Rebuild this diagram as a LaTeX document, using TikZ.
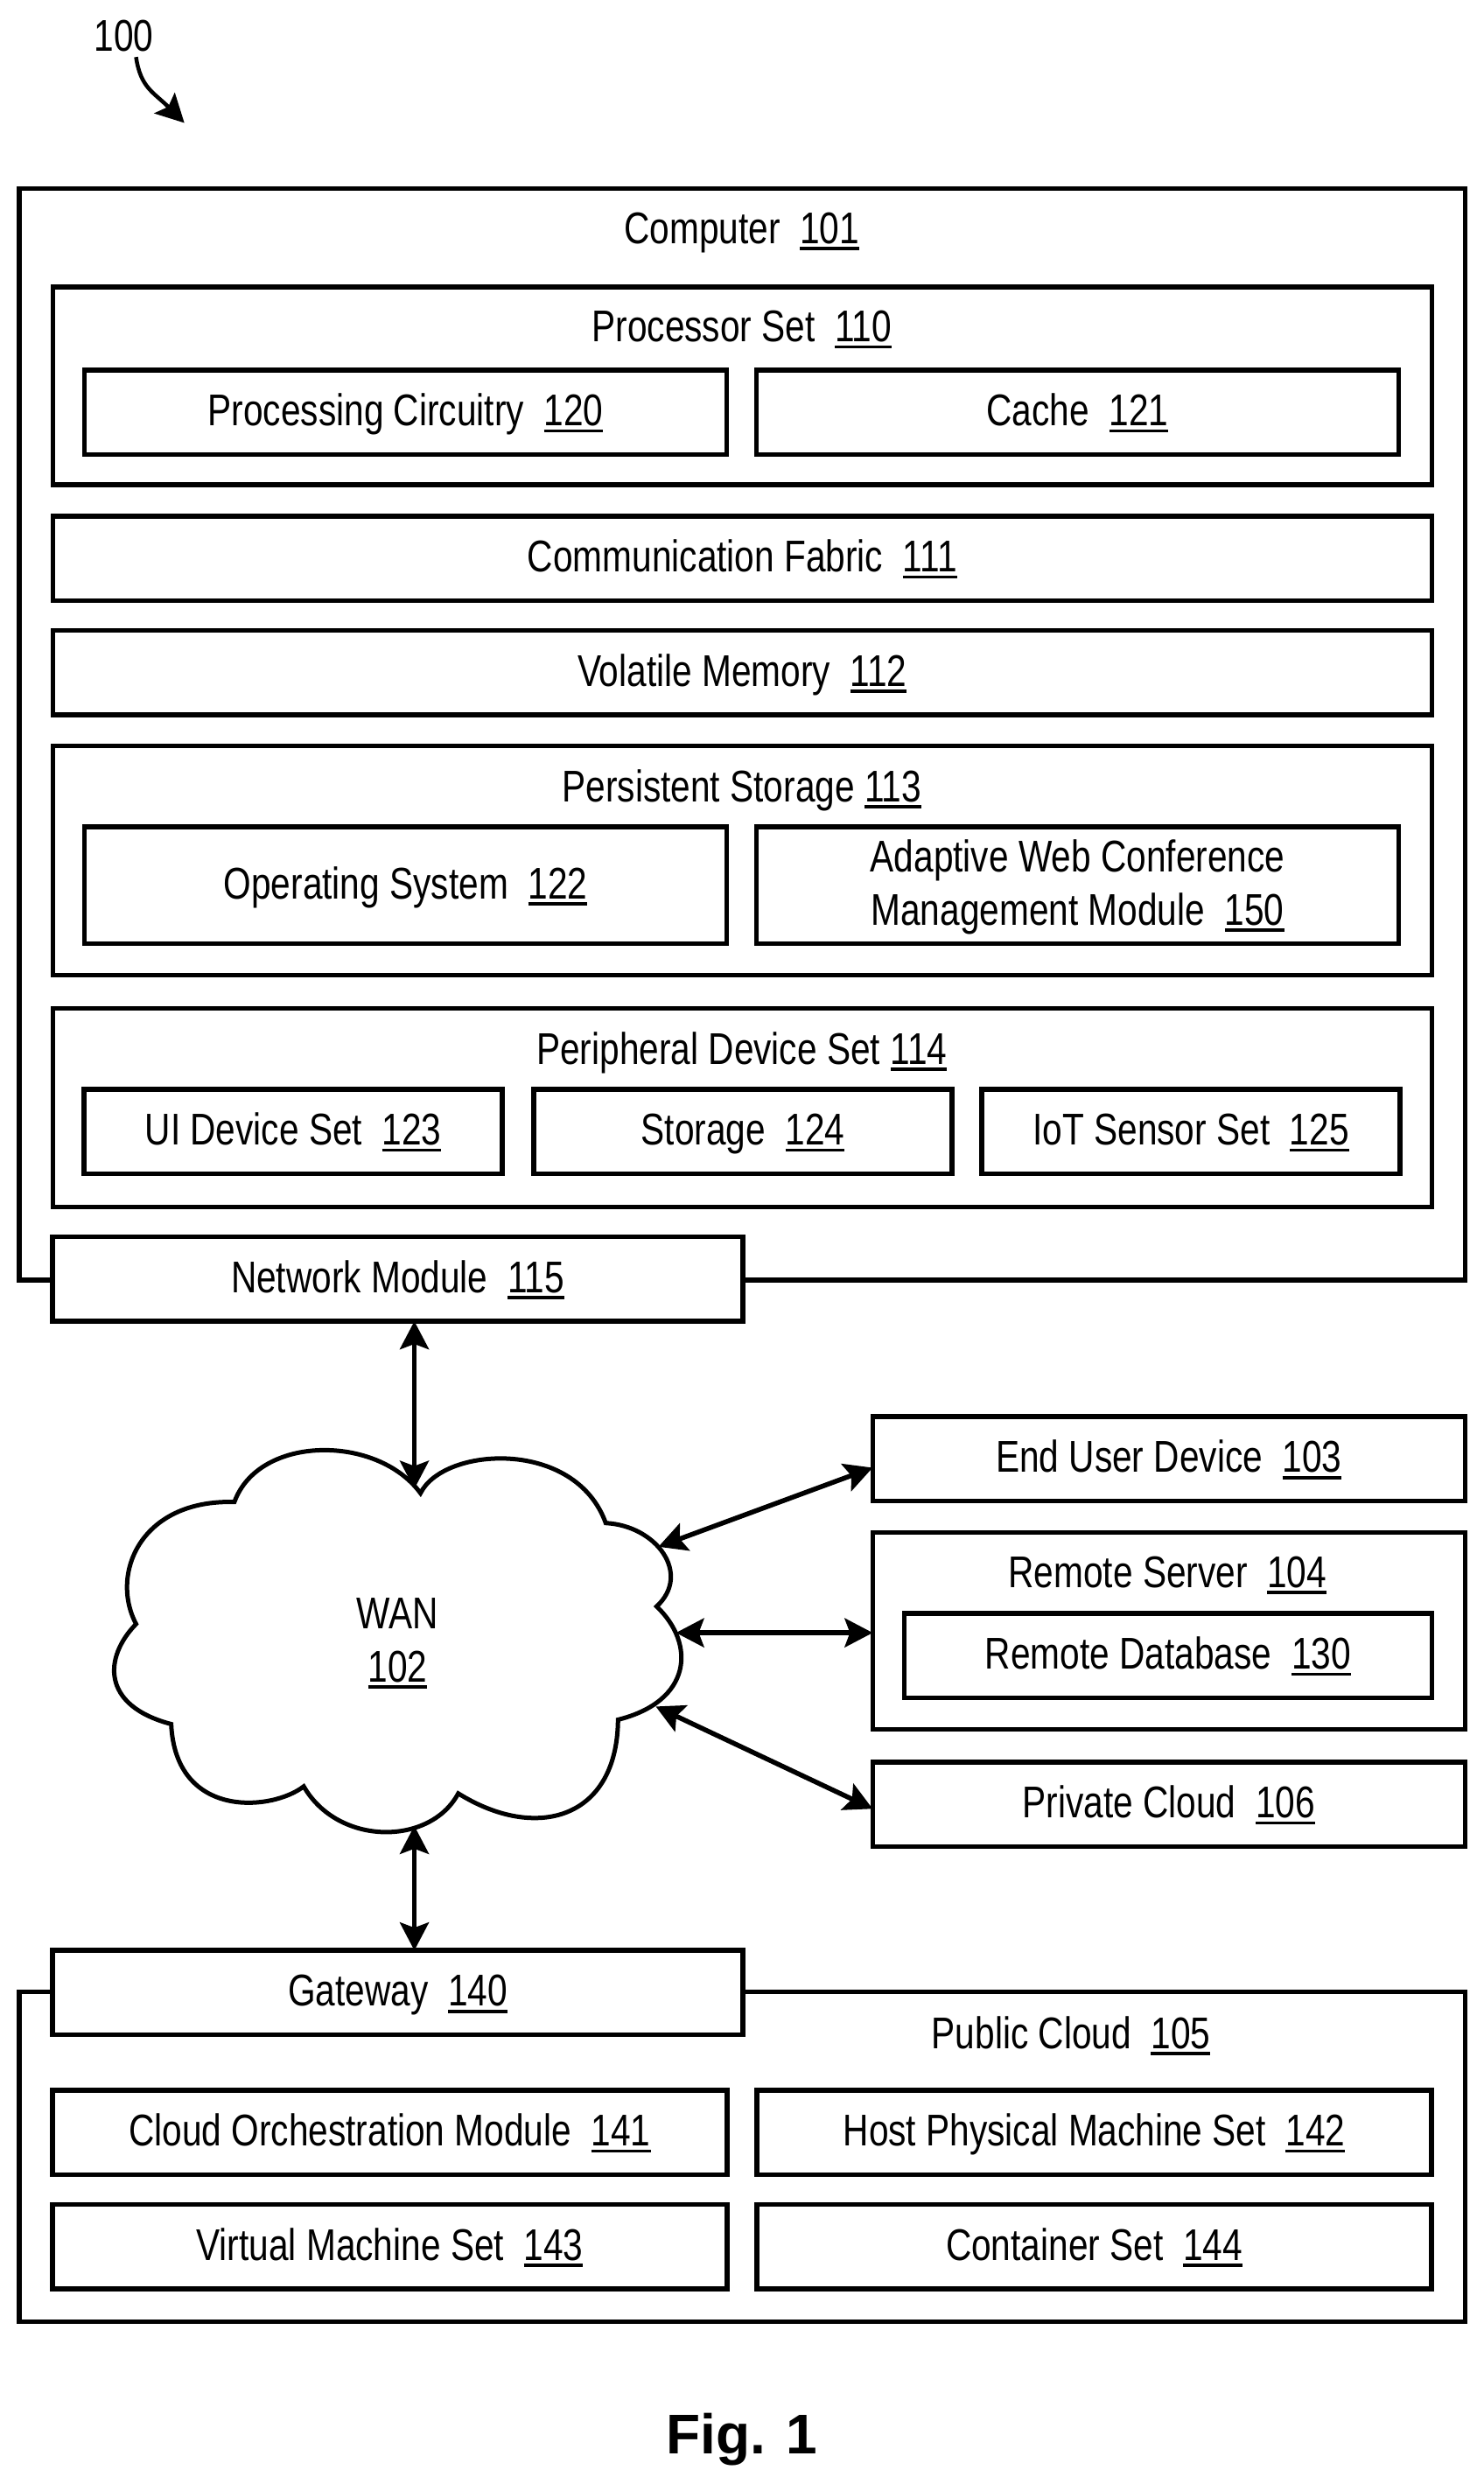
\documentclass[tikz,border=0pt]{standalone}
\usepackage{fontspec}
\setmainfont[FakeStretch=0.8]{Liberation Sans}
\newfontfamily\figfont{Liberation Sans}
\usetikzlibrary{positioning, calc}
\usetikzlibrary{arrows.meta}
\tikzset{>={Stealth[length=0.32cm, width=0.33cm, inset=0.06cm]}}
\tikzset{
  lbl/.style={font=\fontsize{14.45}{17.3}\selectfont, text height=0.38cm, text depth=0.07cm, inner sep=0, outer sep=0},
  box/.style={lbl, draw, fill=white, line width=0.055cm, align=center},
  wide/.style={box, minimum width=15.76cm, minimum height=0.965cm},
  half/.style={box, minimum width=7.34cm, minimum height=0.965cm},
  third/.style={box, minimum width=4.78cm, minimum height=0.965cm},
  halfwide/.style={box, minimum width=7.71cm, minimum height=0.965cm},
  side/.style={box, minimum width=6.77cm, minimum height=0.965cm},
  link/.style={<->, line width=0.055cm}
}
\newcommand{\refnum}[1]{\setbox0\hbox{#1}\rlap{\rule[-0.077cm]{\wd0}{0.037cm}}\box0}

\begin{document}
\begin{tikzpicture}[x=1.0033cm, y=1.0033cm]
  \useasboundingbox (0,0) rectangle (16.904,-28.297);

  \node[lbl] (label) at (1.41,-0.43) {100};
  \coordinate (labeltip) at (2.1,-1.4);
  \draw[->, line width=0.045cm] (1.55,-0.65) .. controls (1.6,-1.0) and (1.75,-1.05) .. (labeltip);

  % computer
  \node[box, minimum width=16.525cm, minimum height=12.47cm] (computer) at (8.455,-8.365) {};
  \node[lbl] (computertxt) at (8.45,-2.62) {Computer\ \ \refnum{101}};

  \node[box, minimum width=15.76cm, minimum height=2.26cm] (procset) at (8.455,-4.395) {};
  \node[lbl] (procsettxt) at (8.45,-3.74) {Processor Set\ \ \refnum{110}};
  \node[half] (circuit) at (4.62,-4.695) {Processing Circuitry\ \ \refnum{120}};
  \node[half, right=0.34cm of circuit] (cache) {Cache\ \ \refnum{121}};

  \node[wide] (fabric) at (8.455,-6.36) {Communication Fabric\ \ \refnum{111}};
  \node[wide, below=0.34cm of fabric] (volatile) {Volatile Memory\ \ \refnum{112}};

  \node[box, minimum width=15.76cm, minimum height=2.62cm] (persist) at (8.455,-9.805) {};
  \node[lbl] (persisttxt) at (8.45,-8.98) {Persistent Storage \refnum{113}};
  \node[half, minimum height=1.335cm] (opsys) at (4.62,-10.085) {Operating System\ \ \refnum{122}};
  \node[half, minimum height=1.335cm, right=0.34cm of opsys, text height=, text depth=0.07cm] (adaptive) {Adaptive Web Conference\\Management Module\ \ \refnum{150}};

  \node[box, minimum width=15.76cm, minimum height=2.27cm] (periph) at (8.455,-12.62) {};
  \node[lbl] (periphtxt) at (8.45,-11.97) {Peripheral Device Set \refnum{114}};
  \node[third] (uidev) at (3.34,-12.89) {UI Device Set\ \ \refnum{123}};
  \node[third, right=0.36cm of uidev] (storage) {Storage\ \ \refnum{124}};
  \node[third, right=0.34cm of storage] (iot) {IoT Sensor Set\ \ \refnum{125}};

  \node[box, minimum width=7.89cm, minimum height=0.965cm] (network) at (4.53,-14.57) {Network Module\ \ \refnum{115}};

  % cloud
  \draw[line width=0.05cm, fill=white] (2.67,-17.11)
    .. controls (2.95,-16.34) and (4.30,-16.34) .. (4.79,-17.01)
    .. controls (5.05,-16.48) and (6.55,-16.38) .. (6.90,-17.35)
    .. controls (7.48,-17.38) and (7.88,-17.93) .. (7.48,-18.30)
    .. controls (7.93,-18.73) and (7.88,-19.38) .. (7.04,-19.59)
    .. controls (7.03,-20.73) and (6.10,-20.98) .. (5.22,-20.43)
    .. controls (4.90,-21.03) and (3.85,-21.03) .. (3.46,-20.35)
    .. controls (3.10,-20.63) and (2.00,-20.73) .. (1.95,-19.64)
    .. controls (1.15,-19.43) and (1.18,-18.88) .. (1.55,-18.50)
    .. controls (1.25,-17.93) and (1.60,-17.08) .. (2.67,-17.11) -- cycle;
  \node[lbl, text height=, text depth=, align=center] (wan) at (4.53,-18.72) {WAN\\\refnum{102}};
  \coordinate (wannorth) at (4.72,-16.96);
  \coordinate (wansouth) at (4.72,-20.8);
  \coordinate (wanne) at (7.5,-17.62);
  \coordinate (wane) at (7.7,-18.6);
  \coordinate (wanse) at (7.47,-19.44);

  % remote side
  \node[side, anchor=west] (enduser) at (9.94,-16.62) {End User Device\ \ \refnum{103}};
  \node[box, minimum width=6.77cm, minimum height=2.25cm] (server) at (13.315,-18.58) {};
  \node[lbl] (servertxt) at (13.3,-17.93) {Remote Server\ \ \refnum{104}};
  \node[box, minimum width=6.03cm, minimum height=0.965cm] (database) at (13.305,-18.86) {Remote Database\ \ \refnum{130}};
  \node[side, anchor=west] (private) at (9.94,-20.555) {Private Cloud\ \ \refnum{106}};

  % public cloud
  \node[box, minimum width=16.525cm, minimum height=3.77cm] (public) at (8.455,-24.57) {};
  \node[lbl] (publictxt) at (12.2,-23.18) {Public Cloud\ \ \refnum{105}};
  \node[box, minimum width=7.89cm, minimum height=0.965cm] (gateway) at (4.53,-22.7) {Gateway\ \ \refnum{140}};
  \node[halfwide] (orch) at (4.44,-24.29) {Cloud Orchestration Module\ \ \refnum{141}};
  \node[halfwide, right=0.34cm of orch] (host) {Host Physical Machine Set\ \ \refnum{142}};
  \node[halfwide, below=0.34cm of orch] (virtual) {Virtual Machine Set\ \ \refnum{143}};
  \node[halfwide, right=0.34cm of virtual] (container) {Container Set\ \ \refnum{144}};

  \node[font=\figfont\bfseries\fontsize{18.2}{22}\selectfont, inner sep=0] (fig) at (8.45,-27.79) {Fig. 1};

  \draw[link] (wannorth |- network.south) -- (wannorth);
  \draw[link] (wansouth) -- (wansouth |- gateway.north);
  \draw[link] (wanne) -- ([yshift=-0.1cm]enduser.west);
  \draw[link] (wane) -- (wane -| server.west);
  \draw[link] (wanse) -- ([yshift=-0.05cm]private.west);
\end{tikzpicture}
\end{document}
